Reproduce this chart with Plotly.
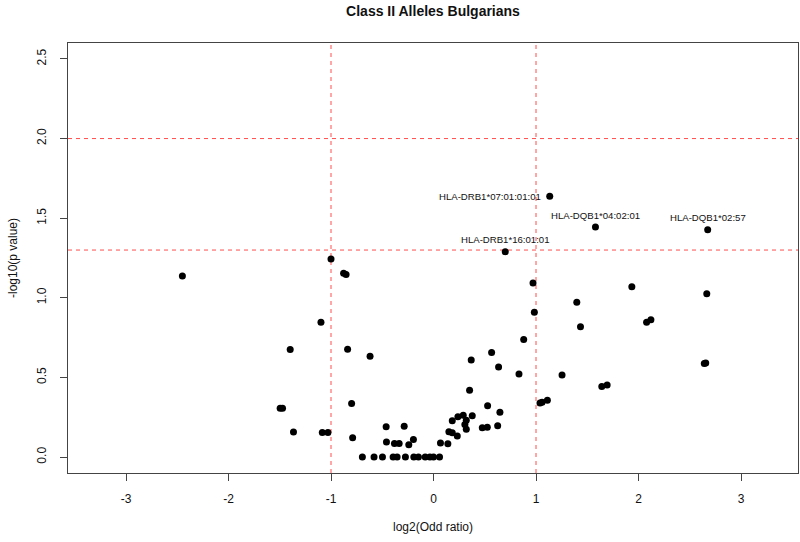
import plotly.graph_objects as go

# ---- data ----
log2_or = [
    -2.45, -1.00, -0.877, -0.853, -1.098, -1.398, -0.838, -0.619, -1.496, -1.473,
    -0.799, -1.366, -1.085, -1.03, -0.789, -0.462, -0.286, -0.459, -0.381, -0.335,
    -0.241, -0.196,
    -0.694, -0.580, -0.498, -0.394, -0.355, -0.274, -0.192, -0.147, -0.081, -0.035,
    0.0, 0.059,
    0.068, 0.14, 0.15, 0.183, 0.232, 0.183, 0.238, 0.29, 0.378, 0.32,
    0.306, 0.32, 0.476, 0.525, 0.626, 0.528, 0.648, 0.352, 0.368, 0.567,
    0.635, 0.834, 0.88, 0.984, 0.971,
    1.039, 1.059, 1.111, 1.254, 1.398, 1.434, 1.642, 1.694, 1.935, 2.079,
    2.121, 2.642, 2.656, 2.666,
]
neg_log10_p = [
    1.137, 1.243, 1.155, 1.147, 0.846, 0.675, 0.677, 0.633, 0.307, 0.307,
    0.337, 0.157, 0.155, 0.155, 0.121, 0.19, 0.194, 0.094, 0.086, 0.086,
    0.077, 0.111,
    0.0, 0.0, 0.0, 0.0, 0.0, 0.0, 0.0, 0.0, 0.0, 0.0,
    0.0, 0.0,
    0.088, 0.083, 0.159, 0.152, 0.132, 0.228, 0.253, 0.263, 0.259, 0.232,
    0.205, 0.174, 0.184, 0.188, 0.196, 0.322, 0.282, 0.42, 0.61, 0.656,
    0.566, 0.522, 0.738, 0.909, 1.093,
    0.34, 0.345, 0.357, 0.516, 0.972, 0.819, 0.443, 0.453, 1.07, 0.846,
    0.863, 0.587, 0.591, 1.026,
]

# significant, labelled alleles
sig_names = ["HLA-DRB1*07:01:01:01", "HLA-DQB1*04:02:01", "HLA-DQB1*02:57", "HLA-DRB1*16:01:01"]
sig_x = [1.134, 1.58, 2.675, 0.70]
sig_y = [1.638, 1.444, 1.428, 1.29]

x_tick_vals = [-3, -2, -1, 0, 1, 2, 3]
x_tick_text = ["-3", "-2", "-1", "0", "1", "2", "3"]
y_tick_vals = [0.0, 0.5, 1.0, 1.5, 2.0, 2.5]
y_tick_text = ["0.0", "0.5", "1.0", "1.5", "2.0", "2.5"]

v_thresholds = [-1, 1]
h_thresholds = [1.3, 2.0]

FONT = "Arial, Liberation Sans, sans-serif"
RED = "#ff4d4d"

fig = go.Figure()
fig.add_trace(go.Scatter(
    x=log2_or + sig_x, y=neg_log10_p + sig_y, mode="markers",
    marker=dict(color="black", size=7, line=dict(width=0)),
    showlegend=False, hoverinfo="skip",
))

annotations = []
# label placement: first one to the left, others above
for name, xv, yv in zip(sig_names, sig_x, sig_y):
    if name == "HLA-DRB1*07:01:01:01":
        annotations.append(dict(x=xv, y=yv, xref="x", yref="y", text=name, showarrow=False,
                                xanchor="right", yanchor="middle", xshift=-7,
                                font=dict(family=FONT, size=9.6, color="#111")))
    else:
        annotations.append(dict(x=xv, y=yv, xref="x", yref="y", text=name, showarrow=False,
                                xanchor="center", yanchor="middle", yshift=12,
                                font=dict(family=FONT, size=9.6, color="#111")))

# axis titles
annotations.append(dict(x=0.5, y=-54 / 430, xref="paper", yref="paper", text="log2(Odd ratio)",
                        showarrow=False, xanchor="center", yanchor="middle",
                        font=dict(family=FONT, size=12, color="#111")))
annotations.append(dict(x=-55 / 730, y=0.5, xref="paper", yref="paper", text="-log10(p value)",
                        showarrow=False, xanchor="center", yanchor="middle", textangle=-90,
                        font=dict(family=FONT, size=12, color="#111")))

shapes = []
for v in v_thresholds:
    shapes.append(dict(type="line", xref="x", yref="paper", x0=v, x1=v, y0=0, y1=1,
                       layer="below", line=dict(color=RED, width=1, dash="4px,4px")))
for h in h_thresholds:
    shapes.append(dict(type="line", xref="paper", yref="y", x0=0, x1=1, y0=h, y1=h,
                       layer="below", line=dict(color=RED, width=1, dash="4px,4px")))

fig.update_layout(
    width=800, height=542,
    margin=dict(l=68, r=2, t=43, b=69),
    paper_bgcolor="white", plot_bgcolor="white",
    hovermode=False,
    title=dict(text="<b>Class II Alleles Bulgarians</b>", x=433 / 800, y=1 - 11 / 542,
               xanchor="center", yanchor="middle", xref="container", yref="container",
               font=dict(family=FONT, size=14, color="#111")),
    xaxis=dict(range=[-3.5659, 3.5561], tickvals=x_tick_vals, ticktext=x_tick_text,
               showgrid=False, zeroline=False, showline=True, mirror=True, showspikes=False,
               linecolor="#444", linewidth=1, ticks="outside", ticklen=7, tickcolor="#444",
               ticklabelstandoff=8,
               tickfont=dict(family=FONT, size=12, color="#111")),
    yaxis=dict(range=[-0.1, 2.6], tickvals=y_tick_vals, ticktext=y_tick_text,
               showgrid=False, zeroline=False, showline=True, mirror=True, showspikes=False,
               linecolor="#444", linewidth=1, ticks="outside", ticklen=7, tickcolor="#444",
               tickangle=-90, ticklabelstandoff=9,
               tickfont=dict(family=FONT, size=12, color="#111")),
    shapes=shapes,
    annotations=annotations,
)

fig.write_html("out.html",
               config={"displayModeBar": False, "staticPlot": True},
               post_script="document.body.style.margin='0';document.body.style.overflow='hidden';")
